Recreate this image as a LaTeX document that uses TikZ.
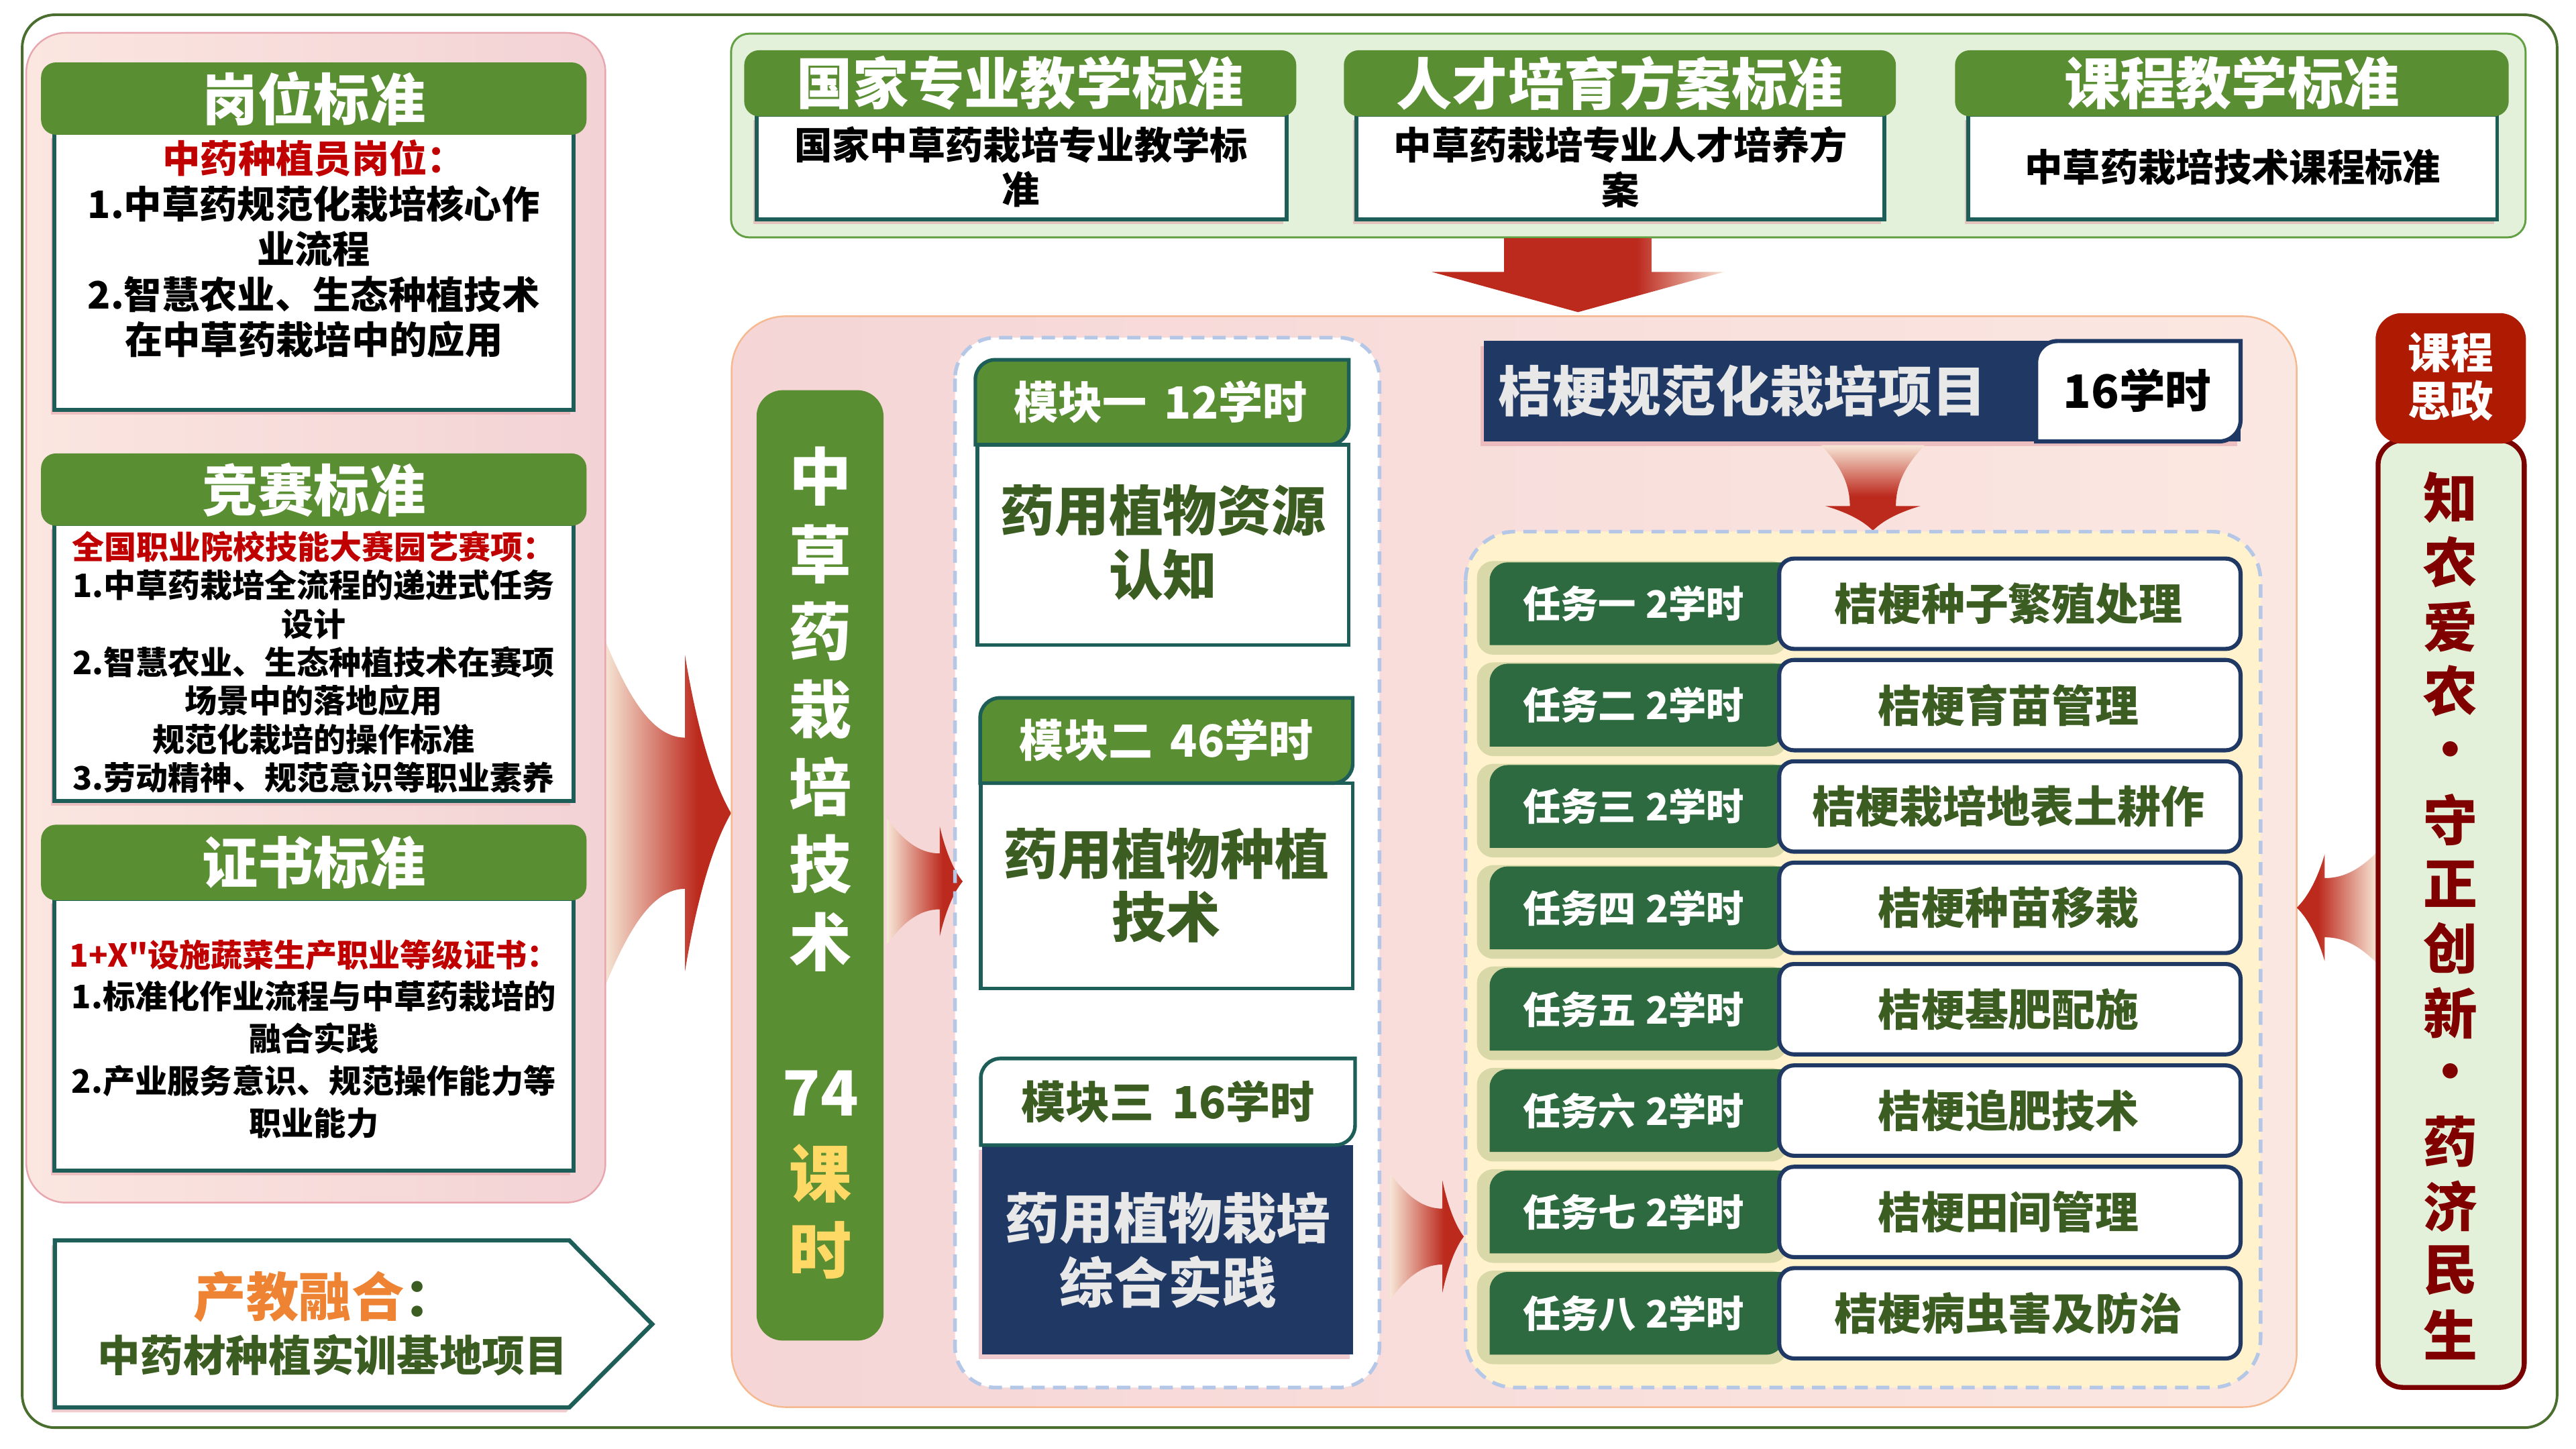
\documentclass[tikz,border=0pt]{standalone}
\usepackage{fontspec}
\setmainfont{Noto Sans CJK SC}[Ligatures=TeXOff]
\usetikzlibrary{shadows}
\definecolor{outerg}{HTML}{4A6E2E}
\definecolor{hdrg}{HTML}{5A8E32}
\definecolor{tealb}{HTML}{1D5F58}
\definecolor{pinkA}{HTML}{FBE6E0}
\definecolor{pinkB}{HTML}{F3D2D5}
\definecolor{pinkBorder}{HTML}{E8A7AE}
\definecolor{midA}{HTML}{F5D5D6}
\definecolor{midB}{HTML}{FBE7E1}
\definecolor{midBorder}{HTML}{F6B98F}
\definecolor{topfill}{HTML}{E3F0DA}
\definecolor{topborder}{HTML}{62A043}
\definecolor{redtxt}{HTML}{C00000}
\definecolor{dgtxt}{HTML}{3B5D22}
\definecolor{navy}{HTML}{1F3864}
\definecolor{lgray}{HTML}{E8E8E8}
\definecolor{cream}{HTML}{FFF2CC}
\definecolor{taskg}{HTML}{2D6A40}
\definecolor{dashb}{HTML}{B4C7E7}
\definecolor{yel}{HTML}{FFD966}
\definecolor{orng}{HTML}{EE8433}
\definecolor{szred}{HTML}{AE1A02}
\definecolor{szborder}{HTML}{7B0000}
\definecolor{sztxt}{HTML}{800000}
\definecolor{ared}{HTML}{BC291D}
\definecolor{afade}{HTML}{F7E6D6}
\definecolor{bfade}{HTML}{F8E2D4}
\definecolor{shpink}{HTML}{E3A0A6}
\definecolor{glow}{HTML}{B9C48C}
\pgfdeclarehorizontalshading{arrR}{100bp}{color(0bp)=(afade); color(25bp)=(afade); color(62bp)=(ared); color(100bp)=(ared)}
\pgfdeclarehorizontalshading{arrL}{100bp}{color(0bp)=(ared); color(38bp)=(ared); color(75bp)=(afade); color(100bp)=(afade)}
\pgfdeclareverticalshading{arrD}{100bp}{color(0bp)=(ared); color(45bp)=(ared); color(75bp)=(afade); color(100bp)=(afade)}
\pgfdeclarehorizontalshading{arrB}{100bp}{color(0bp)=(ared); color(60bp)=(ared); color(75bp)=(bfade); color(100bp)=(bfade)}
\newcommand\fs[2]{\fontsize{#1}{#2}\selectfont\bfseries}
% horizontal curved arrow: #1 tail x, #2 tail half, #3 head back x, #4 shaft half, #5 barb half, #6 tip x, #7 centre y, #8 shading
\newcommand\harr[8]{%
 \pgfmathsetmacro\aD{#3-#1}%
 \pgfmathsetmacro\aH{#6-#3}%
 \shade[shading=#8]
  (#1,#7-#2) .. controls ({#1+0.3*\aD},{#7-#2+0.6*(#2-#4)}) and ({#3-0.4*\aD},{#7-#4}) .. (#3,#7-#4)
  -- (#3,#7-#5) .. controls ({#3+0.25*\aH},{#7-0.55*#5}) and ({#3+0.6*\aH},{#7-0.2*#5}) .. (#6,#7)
  .. controls ({#3+0.6*\aH},{#7+0.2*#5}) and ({#3+0.25*\aH},{#7+0.55*#5}) .. (#3,#7+#5)
  -- (#3,#7+#4) .. controls ({#3-0.4*\aD},{#7+#4}) and ({#1+0.3*\aD},{#7+#2-0.6*(#2-#4)}) .. (#1,#7+#2) -- cycle;}
% vertical curved arrow
\newcommand\varr[8]{%
 \pgfmathsetmacro\aD{#3-#1}%
 \pgfmathsetmacro\aH{#6-#3}%
 \shade[shading=#8]
  (#7-#2,#1) .. controls ({#7-#2+0.6*(#2-#4)},{#1+0.3*\aD}) and ({#7-#4},{#3-0.4*\aD}) .. (#7-#4,#3)
  -- (#7-#5,#3) .. controls ({#7-0.55*#5},{#3+0.25*\aH}) and ({#7-0.2*#5},{#3+0.6*\aH}) .. (#7,#6)
  .. controls ({#7+0.2*#5},{#3+0.6*\aH}) and ({#7+0.55*#5},{#3+0.25*\aH}) .. (#7+#5,#3)
  -- (#7+#4,#3) .. controls ({#7+#4},{#3-0.4*\aD}) and ({#7+#2-0.6*(#2-#4)},{#1+0.3*\aD}) .. (#7+#2,#1) -- cycle;}
% rectangle with top-left and bottom-right corners rounded
\newcommand\rdiag[6]{%
 \path[#1] (#2,#5) -- (#2,#3+#6) .. controls (#2,{#3+0.45*#6}) and ({#2+0.45*#6},#3) .. (#2+#6,#3)
  -- (#4,#3) -- (#4,#5-#6) .. controls (#4,{#5-0.45*#6}) and ({#4-0.45*#6},#5) .. (#4-#6,#5) -- cycle;}
\tikzset{
 every node/.style={inner sep=0pt, outer sep=0pt},
 hdrbox/.style={fill=hdrg, rounded corners=9pt},
 hdrtxt/.style={text=white, font=\fs{34}{40}},
 pshadow/.style={drop shadow={shadow xshift=-2pt, shadow yshift=-3pt, fill=shpink, opacity=0.55}},
 wbox/.style={fill=white, draw=tealb, line width=2.4pt, pshadow},
 body/.style={align=center, text=black},
 dashedpanel/.style={draw=dashb, line width=2.2pt, dash pattern=on 8pt off 5pt},
}
\begin{document}
\begin{tikzpicture}[x=1pt,y=-1pt]
\useasboundingbox (0,0) rectangle (1568,882);
\fill[white] (0,0) rectangle (1568,882);
\draw[outerg, line width=1.6pt, rounded corners=20pt] (13.5,9) rectangle (1556.5,869);

% big arrow from left panel
\harr{368}{106}{417}{46}{96}{445}{495}{arrR}

% ---------------- left panel ----------------
\path[left color=pinkA, right color=pinkB, draw=pinkBorder, line width=1pt, rounded corners=24pt] (16,20) rectangle (368.5,732);

\path[wbox] (33,81) rectangle (349,249.4);
\path[hdrbox] (25,38) rectangle (357,82);
\node[hdrtxt] (hA) at (191,60) {岗位标准};
\node[body, font=\fs{23}{27.5}] (bA) at (191,151.5) {\textcolor{redtxt}{中药种植员岗位：}\\1.中草药规范化栽培核心作\\业流程\\2.智慧农业、生态种植技术\\在中草药栽培中的应用};

\path[wbox] (33,319) rectangle (349,487.5);
\path[hdrbox] (25,276) rectangle (357,320);
\node[hdrtxt] (hB) at (191,298) {竞赛标准};
\node[body, font=\fs{19.6}{23.45}] (bB) at (191,403) {\textcolor{redtxt}{全国职业院校技能大赛园艺赛项：}\\1.中草药栽培全流程的递进式任务\\设计\\2.智慧农业、生态种植技术在赛项\\场景中的落地应用\\规范化栽培的操作标准\\3.劳动精神、规范意识等职业素养};

\path[wbox] (33,547) rectangle (349,712.5);
\path[hdrbox] (25,502) rectangle (357,548);
\node[hdrtxt] (hC) at (191,525) {证书标准};
\node[body, font=\fs{19.7}{25.7}] (bC) at (191,632.5) {\textcolor{redtxt}{\fontsize{19.2}{25.7}\selectfont 1+X"设施蔬菜生产职业等级证书：}\\1.标准化作业流程与中草药栽培的\\融合实践\\2.产业服务意识、规范操作能力等\\职业能力};

% pentagon
\path[fill=white, draw=tealb, line width=2.6pt, pshadow] (33.4,755) -- (346.5,755) -- (397,806) -- (346.5,856.7) -- (33.4,856.7) -- cycle;
\node[font=\fs{32}{36}] (cjA) at (198,789.5) {\textcolor{orng}{产教融合}\textcolor{dgtxt}{：}};
\node[font=\fs{26}{30}, text=dgtxt] (cjB) at (202.5,825) {中药材种植实训基地项目};

% ---------------- top panel ----------------
\path[fill=topfill, draw=topborder, line width=1.2pt, rounded corners=11pt] (445,20.5) rectangle (1537.3,144.5);
\path[wbox] (460.5,70) rectangle (783,133.4);
\path[hdrbox] (453,30.6) rectangle (789,70.8);
\node[hdrtxt] (tA) at (621,50.6) {国家专业教学标准};
\node[body, font=\fs{23}{27.2}] (tAb) at (621.5,101.6) {国家中草药栽培专业教学标\\准};
\path[wbox] (825.7,70) rectangle (1147,133.4);
\path[hdrbox] (818,30.6) rectangle (1154,70.8);
\node[hdrtxt] (tB) at (986,50.6) {人才培育方案标准};
\node[body, font=\fs{23}{27.2}] (tBb) at (986.4,101.6) {中草药栽培专业人才培养方\\案};
\path[wbox] (1198,70) rectangle (1520,133.4);
\path[hdrbox] (1190,30.6) rectangle (1527,70.8);
\node[hdrtxt] (tC) at (1358.5,50.6) {课程教学标准};
\node[body, font=\fs{23}{27.2}] (tCb) at (1359,101.6) {中草药栽培技术课程标准};

% down block arrow
\shade[shading=arrB] (915.5,145) -- (1005.3,145) -- (1005.3,165.5) -- (1049.5,165.5) -- (960.5,190) -- (871.5,165.5) -- (915.5,165.5) -- cycle;

% ---------------- middle panel ----------------
\path[left color=midA, right color=midB, draw=midBorder, line width=1pt, rounded corners=33pt] (445.3,192.5) rectangle (1398,856.5);

% green vertical bar
\path[fill=hdrg, rounded corners=16pt] (460.5,237.5) rectangle (537.8,816);
\foreach \c [count=\k] in {中,草,药,栽,培,技,术}{
  \pgfmathsetmacro\yy{290+47.2*(\k-1)}
  \node[font=\fs{38}{40}, text=white] (gbar\k) at (499.5,\yy) {\c};
}
\node[font=\fs{38}{40}, text=white] (gbar74) at (499.5,665.6) {74};
\node[font=\fs{38}{40}, text=yel] (gbarK) at (499.5,714.3) {课};
\node[font=\fs{38}{40}, text=yel] (gbarS) at (499.5,761) {时};

% module panel
\path[fill=white, rounded corners=25pt] (581.3,205.5) rectangle (839.7,844.6);
\harr{540}{38}{572}{17}{33.5}{586}{536.5}{arrR}
\draw[dashedpanel, rounded corners=25pt] (581.3,205.5) rectangle (839.7,844.6);

% module 1
\path[fill=white, draw=tealb, line width=2.2pt] (595,270.7) rectangle (821,392.5);
\rdiag{fill=hdrg, draw=tealb, line width=2.2pt}{593.7}{219}{821}{270.7}{12}
\node[font=\fs{27}{30}, text=white] (m1h) at (706.4,244.5) {模块一\hspace{0.4em}12学时};
\node[font=\fs{33}{39.2}, text=dgtxt, align=center] (m1c) at (708,330.3) {药用植物资源\\认知};
% module 2
\path[fill=white, draw=tealb, line width=2.2pt] (597,476.7) rectangle (823.4,601.7);
\rdiag{fill=hdrg, draw=tealb, line width=2.2pt}{596.6}{424.8}{823.4}{476.7}{12}
\node[font=\fs{27}{30}, text=white] (m2h) at (710,450.6) {模块二\hspace{0.4em}46学时};
\node[font=\fs{33}{38.5}, text=dgtxt, align=center] (m2c) at (710,539) {药用植物种植\\技术};
% module 3
\path[fill=navy, pshadow] (597.7,697) rectangle (823.7,824.4);
\rdiag{fill=white, draw=tealb, line width=2.2pt}{597}{644.3}{824.8}{697}{12}
\node[font=\fs{27}{30}, text=dgtxt] (m3h) at (711,670.4) {模块三\hspace{0.4em}16学时};
\node[font=\fs{33}{39}, text=lgray, align=center] (m3c) at (711,761) {药用植物栽培\\综合实践};

% project header
\path[fill=navy, pshadow] (903.3,207.6) rectangle (1363.8,268.7);
\rdiag{fill=white, draw=navy, line width=2.5pt}{1239.4}{207.6}{1363.8}{268.7}{13}
\node[font=\fs{33}{36}, text=lgray] (proj) at (1060.7,237.8) {桔梗规范化栽培项目};
\node[font=\fs{28}{30}, text=black] (projh) at (1301,237.8) {16学时};

% small down arrow
\varr{271}{31.5}{308}{14}{29}{323}{1140}{arrD}

% task panel
\path[fill=cream, rounded corners=30pt] (892.1,323.6) rectangle (1376,844.6);
\foreach \lab/\txt [count=\k] in {任务一/桔梗种子繁殖处理, 任务二/桔梗育苗管理, 任务三/桔梗栽培地表土耕作, 任务四/桔梗种苗移栽, 任务五/桔梗基肥配施, 任务六/桔梗追肥技术, 任务七/桔梗田间管理, 任务八/桔梗病虫害及防治}{
  \pgfmathsetmacro\cy{367.5+61.7*(\k-1)}
  \path[fill=glow, opacity=0.55, rounded corners=10pt] (899,\cy-26) rectangle (1088,\cy+31);
  \rdiag{fill=taskg}{906.7}{\cy-25.2}{1086}{\cy+25.2}{11}
  \path[fill=white, draw=navy, line width=2.5pt, rounded corners=9pt] (1083,\cy-27.5) rectangle (1363.8,\cy+27.5);
  \node[font=\fs{23}{26}, text=white] (tl\k) at (994.4,\cy) {\lab\hspace{0.25em}2学时};
  \node[font=\fs{26.5}{30}, text=dgtxt] (tt\k) at (1222.5,\cy) {\txt};
}
\harr{846}{38.7}{878}{17}{34}{891}{752.7}{arrR}
\draw[dashedpanel, rounded corners=30pt] (892.1,323.6) rectangle (1376,844.6);

% ---------------- right: 课程思政 ----------------
\harr{1447}{34}{1415}{18}{32.5}{1398}{552.5}{arrL}
\path[fill=topfill, draw=szborder, line width=3pt, rounded corners=15pt] (1447.5,268) rectangle (1536.5,844.5);
\path[fill=szred, rounded corners=16pt] (1446,190.6) rectangle (1537.5,270);
\node[font=\fs{26}{29.5}, text=white, align=center] (szh) at (1491.7,229.3) {课程\\思政};
\foreach \c [count=\k] in {知,农,爱,农,·,守,正,创,新,·,药,济,民,生}{
  \pgfmathsetmacro\yy{303+39.2*(\k-1)}
  \node[font=\fs{33}{36}, text=sztxt] (sz\k) at (1491.7,\yy) {\c};
}
\end{tikzpicture}
\end{document}
